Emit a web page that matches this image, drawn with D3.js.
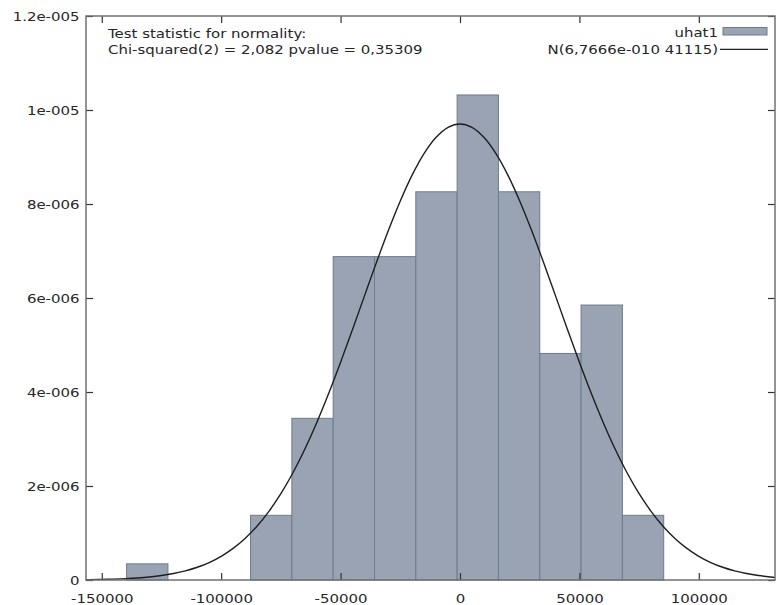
<!DOCTYPE html>
<html><head><meta charset="utf-8">
<script src="https://cdn.jsdelivr.net/npm/d3@7"></script>
<style>
html,body{margin:0;padding:0;background:#fff;}
text{font-family:"DejaVu Sans",sans-serif;fill:#262626;}
</style>
</head><body>
<svg id="chart" width="776" height="605"></svg>
<script>
// ---- data ----
const binEdges = [-139600, -122300, -105000, -87700, -70400, -53100, -35800, -18500, -1200, 16100, 33400, 50700, 68000, 85300];
const binDensity = [3.44e-7, 0, 0, 1.376e-6, 3.44e-6, 6.88e-6, 6.88e-6, 8.26e-6, 1.032e-5, 8.26e-6, 4.82e-6, 5.85e-6, 1.376e-6];
const curveX = [-160000,-155000,-150000,-145000,-140000,-135000,-130000,-125000,-120000,-115000,-110000,-105000,-100000,-95000,-90000,-85000,-80000,-75000,-70000,-65000,-60000,-55000,-50000,-45000,-40000,-35000,-30000,-25000,-20000,-15000,-10000,-5000,0,5000,10000,15000,20000,25000,30000,35000,40000,45000,50000,55000,60000,65000,70000,75000,80000,85000,90000,95000,100000,105000,110000,115000,120000,125000,130000,135000];
const curveY = [5e-9,8e-9,1.25e-8,1.9e-8,2.9e-8,4.4e-8,6.5e-8,9.5e-8,1.37e-7,1.94e-7,2.71e-7,3.72e-7,5.04e-7,6.72e-7,8.84e-7,1.145e-6,1.461e-6,1.838e-6,2.277e-6,2.781e-6,3.346e-6,3.966e-6,4.632e-6,5.331e-6,6.045e-6,6.754e-6,7.435e-6,8.065e-6,8.620e-6,9.078e-6,9.420e-6,9.632e-6,9.703e-6,9.632e-6,9.420e-6,9.078e-6,8.620e-6,8.065e-6,7.435e-6,6.754e-6,6.045e-6,5.331e-6,4.632e-6,3.966e-6,3.346e-6,2.781e-6,2.277e-6,1.838e-6,1.461e-6,1.145e-6,8.84e-7,6.72e-7,5.04e-7,3.72e-7,2.71e-7,1.94e-7,1.37e-7,9.5e-8,6.5e-8,4.4e-8];
const xTickValues = [-150000, -100000, -50000, 0, 50000, 100000];
const xTickLabels = ["-150000", "-100000", "-50000", "0", "50000", "100000"];
const yTickValues = [0, 2e-6, 4e-6, 6e-6, 8e-6, 1e-5, 1.2e-5];
const yTickLabels = ["0", "2e-006", "4e-006", "6e-006", "8e-006", "1e-005", "1.2e-005"];
const seriesName = "uhat1";
const curveName = "N(6,7666e-010 41115)";
const noteLines = ["Test statistic for normality:", "Chi-squared(2) = 2,082 pvalue = 0,35309"];

// ---- layout ----
const L = 86, R = 775, T = 16, B = 580;
const SX = 1.15; // horizontal text stretch
const svg = d3.select("#chart");
const x = d3.scaleLinear().domain([-156600, 131900]).range([L, R]);
const y = d3.scaleLinear().domain([0, 1.2e-5]).range([B, T]);

const clip = svg.append("clipPath").attr("id","clip").append("rect")
  .attr("x", L).attr("y", T).attr("width", R - L).attr("height", B - T);

// bars
const bins = binDensity.map((d, i) => ({x0: binEdges[i], x1: binEdges[i+1], v: d}));
svg.append("g").selectAll("rect").data(bins.filter(b => b.v > 0)).join("rect")
  .attr("x", d => x(d.x0)).attr("width", d => x(d.x1) - x(d.x0))
  .attr("y", d => y(d.v)).attr("height", d => y(0) - y(d.v))
  .attr("fill", "#99a3b4").attr("stroke", "#6f7a8d").attr("stroke-width", 1);

// normal curve
const pts = curveX.map((v, i) => [v, curveY[i]]);
svg.append("path").datum(pts)
  .attr("clip-path", "url(#clip)")
  .attr("d", d3.line().x(d => x(d[0])).y(d => y(d[1])).curve(d3.curveCatmullRom))
  .attr("fill", "none").attr("stroke", "#1e1e1e").attr("stroke-width", 1.4);

// axes (ticks inward, mirrored)
function styleAxis(g) {
  g.select(".domain").remove();
  g.selectAll(".tick line").attr("stroke", "#333").attr("stroke-width", 1.2);
  g.selectAll("text").attr("font-size", 13).attr("fill", "#262626")
    .attr("font-family", "DejaVu Sans, sans-serif");
}
const xb = svg.append("g").attr("transform", `translate(0,${B})`)
  .call(d3.axisBottom(x).tickValues(xTickValues).tickFormat((d, i) => xTickLabels[i]).tickSizeInner(-7).tickSizeOuter(0).tickPadding(14))
  .call(styleAxis);
xb.selectAll("text").attr("transform", `scale(${SX},1)`);

const yl = svg.append("g").attr("transform", `translate(${L},0)`)
  .call(d3.axisLeft(y).tickValues(yTickValues).tickFormat((d, i) => yTickLabels[i]).tickSizeInner(-7).tickSizeOuter(0).tickPadding(7))
  .call(styleAxis);
yl.selectAll("text").attr("x", -6.5 / SX).attr("transform", `scale(${SX},1)`);

svg.append("g").attr("transform", `translate(0,${T})`)
  .call(d3.axisTop(x).tickValues(xTickValues).tickFormat("").tickSizeInner(-7).tickSizeOuter(0))
  .call(styleAxis);
svg.append("g").attr("transform", `translate(${R},0)`)
  .call(d3.axisRight(y).tickValues(yTickValues).tickFormat("").tickSizeInner(-7).tickSizeOuter(0))
  .call(styleAxis);

// border
svg.append("rect").attr("x", L).attr("y", T).attr("width", R - L).attr("height", B - T)
  .attr("fill", "none").attr("stroke", "#707070").attr("stroke-width", 1.5);

// note text
function stretchedText(g, tx, ty, str, anchor) {
  g.append("text").attr("transform", `translate(${tx},${ty}) scale(${SX},1)`)
    .attr("text-anchor", anchor).attr("font-size", 13).text(str);
}
const notes = svg.append("g");
noteLines.forEach((s, i) => stretchedText(notes, 108, 38 + i * 15.5, s, "start"));

// legend
const leg = svg.append("g");
stretchedText(leg, 718, 37, seriesName, "end");
leg.append("rect").attr("x", 723).attr("y", 27.5).attr("width", 44).attr("height", 7.5)
  .attr("fill", "#99a3b4").attr("stroke", "#6f7a8d").attr("stroke-width", 1);
stretchedText(leg, 718, 53.5, curveName, "end");
leg.append("line").attr("x1", 720).attr("x2", 768).attr("y1", 49.3).attr("y2", 49.3)
  .attr("stroke", "#1e1e1e").attr("stroke-width", 1.3);
</script>
</body></html>
